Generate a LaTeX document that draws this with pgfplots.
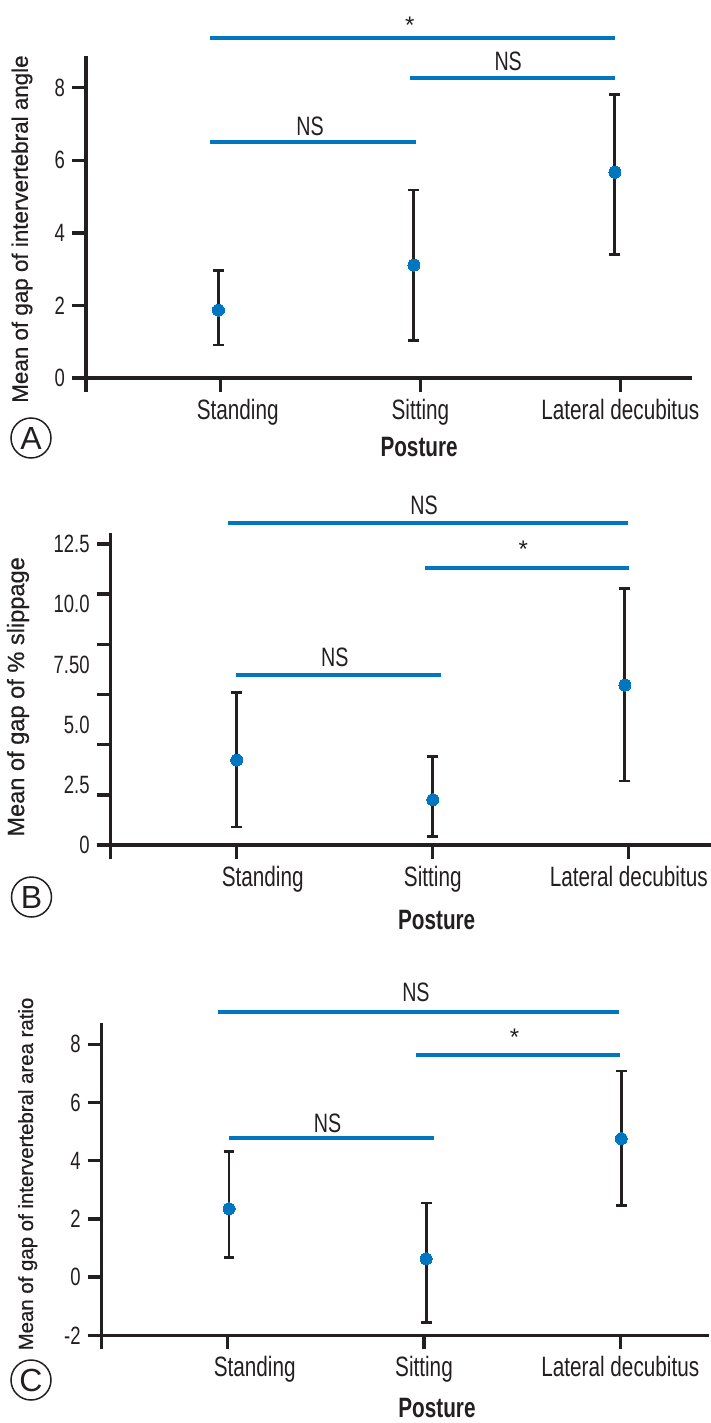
\documentclass[border=0pt]{standalone}
\usepackage{pgfplots}
\pgfplotsset{compat=1.18}
\usepackage{fontspec}
\setmainfont{Liberation Sans}
\newfontfamily\cond[FakeStretch=0.74]{Liberation Sans}
\newfontfamily\medium[FakeBold=0.6]{Liberation Sans}
\definecolor{bblue}{RGB}{0,118,192}
\definecolor{dark}{RGB}{35,31,32}

\pgfplotsset{
  panel/.style={
    scale only axis, clip=false,
    axis x line*=bottom, axis y line*=left,
    x axis line style={draw=none},
    y axis line style={line width=1.7pt, color=dark},
    xtick align=inside, ytick align=outside,
    major tick length=7pt,
    tick style={line width=1.7pt, color=dark},
    xtick={1,2,3},
    x tick label style={font=\cond\fontsize{14}{16}\selectfont, text=dark},
    y tick label style={font=\cond\fontsize{12.5}{14}\selectfont, text=dark},
    xlabel={Posture},
    xlabel style={font=\cond\bfseries\fontsize{14}{16}\selectfont, text=dark, anchor=center},
    ylabel style={anchor=center, text=dark},
  },
  errplot/.style={only marks, color=bblue, mark=*, mark size=3pt,
    mark options={fill=bblue, draw=bblue, line width=0pt},
    error bars/y dir=both, error bars/y explicit,
    error bars/error bar style={line width=1.4pt, color=dark},
    error bars/error mark options={rotate=90, mark size=2.7pt, line width=1.4pt, color=dark}},
}
\tikzset{
  brk/.style={bblue, line width=2pt},
  lab/.style={font=\cond\fontsize{13.3}{15}\selectfont, text=dark},
  star/.style={font=\fontsize{12}{14}\selectfont, text=dark, yshift=-2.5pt},
}

\begin{document}
\begin{tikzpicture}
\useasboundingbox (0,0) rectangle (355.5pt,-711.5pt);

% ---------------- Panel A ----------------
\begin{axis}[panel,
  at={(43pt,-196pt)}, anchor=south west,
  width=303.1pt, height=167.95pt,
  xmin=0.326, xmax=3.36, ymin=-0.386, ymax=8.87,
  xticklabels={\hspace*{17pt}Standing,Sitting,Lateral decubitus},
  ytick={0,2,4,6,8}, yticklabels={0,2,4,6,8},
  ylabel={Mean of gap of intervertebral angle},
  ylabel style={font=\medium\fontsize{11.2}{13}\selectfont, at={([xshift=-32pt,yshift=-2.5pt]rel axis cs:0,0.5)}},
  xlabel style={at={([yshift=-27.5pt]axis cs:1.993,-0.386)}},
]
\addplot[errplot] table[x=x, y=y, y error plus=ep, y error minus=em] {
x     y    ep   em
0.989 1.87 1.09 0.96
1.967 3.11 2.07 2.07
2.973 5.67 2.15 2.27
};
\draw[dark, line width=1.7pt] ([xshift=-7pt]axis cs:0.326,0) -- (axis cs:3.36,0);
\draw[brk] (axis cs:0.948,9.36) -- (axis cs:2.973,9.36);
\draw[brk] (axis cs:1.947,8.26) -- (axis cs:2.973,8.26);
\draw[brk] (axis cs:0.946,6.49) -- (axis cs:1.976,6.49);
\node[star] at (axis cs:1.947,9.85) {*};
\node[lab] at (axis cs:2.439,8.72) {NS};
\node[lab] at (axis cs:1.447,6.94) {NS};
\end{axis}

% ---------------- Panel B ----------------
\begin{axis}[panel,
  at={(55.35pt,-429.5pt)}, anchor=south west,
  width=300.2pt, height=163.15pt,
  xmin=0.357, xmax=3.42, ymin=-0.581, ymax=12.97,
  xticklabels={\hspace*{26pt}Standing,Sitting,Lateral decubitus},
  ytick={0,2.0833,4.1667,6.25,8.3333,10.4167,12.5}, yticklabels={,,,,,,},
  extra y ticks={0,2.5,5,7.5,10,12.5},
  extra y tick labels={0,2.5,5.0,7.50,10.0,12.5},
  extra y tick style={major tick style={draw=none}},
  ylabel={Mean of gap of \% slippage},
  ylabel style={font=\medium\fontsize{11.8}{13}\selectfont, at={([xshift=-46.35pt,yshift=-0.5pt]rel axis cs:0,0.5)}},
  xlabel style={at={([yshift=-30.5pt]axis cs:2.02,-0.581)}},
]
\addplot[errplot] table[x=x, y=y, y error plus=ep, y error minus=em] {
x     y    ep   em
1.0   3.53 2.82 2.78
2.0   1.88 1.78 1.54
2.98  6.64 4.00 3.98
};
\draw[dark, line width=1.7pt] ([xshift=-7pt]axis cs:0.357,0) -- (axis cs:3.42,0);
\draw[brk] (axis cs:0.954,13.36) -- (axis cs:2.995,13.36);
\draw[brk] (axis cs:1.962,11.52) -- (axis cs:3.0,11.52);
\draw[brk] (axis cs:0.998,7.08) -- (axis cs:2.04,7.08);
\node[lab] at (axis cs:1.956,14.12) {NS};
\node[star] at (axis cs:2.462,12.5) {*};
\node[lab] at (axis cs:1.5,7.81) {NS};
\end{axis}

% ---------------- Panel C ----------------
\begin{axis}[panel,
  at={(50.85pt,-674.65pt)}, anchor=south west,
  width=303.65pt, height=163.3pt,
  xmin=0.358, xmax=3.452, ymin=-2.481, ymax=8.742,
  xticklabels={\hspace*{27pt}Standing,Sitting,Lateral decubitus},
  ytick={-2,0,2,4,6,8}, yticklabels={-2,0,2,4,6,8},
  ylabel={Mean of gap of intervertebral area ratio},
  ylabel style={font=\medium\fontsize{10.2}{12}\selectfont, at={([xshift=-37pt,yshift=6pt]rel axis cs:0,0.5)}},
  xlabel style={at={([yshift=-29.3pt]axis cs:2.066,-2.481)}},
]
\addplot[errplot] table[x=x, y=y, y error plus=ep, y error minus=em] {
x     y     ep   em
1.007 2.35  1.96 1.68
2.011 0.63  1.92 2.20
3.005 4.76  2.32 2.31
};
\draw[dark, line width=1.7pt] ([xshift=-7pt]axis cs:0.358,-2) -- (axis cs:3.452,-2);
\draw[brk] (axis cs:0.952,9.10) -- (axis cs:2.995,9.10);
\draw[brk] (axis cs:1.957,7.62) -- (axis cs:3.0,7.62);
\draw[brk] (axis cs:1.007,4.78) -- (axis cs:2.05,4.78);
\node[lab] at (axis cs:1.959,9.78) {NS};
\node[star] at (axis cs:2.461,8.40) {*};
\node[lab] at (axis cs:1.509,5.30) {NS};
\end{axis}

% circled panel letters
\node[circle, draw=dark, line width=0.75pt, minimum size=20pt, inner sep=0pt, font=\fontsize{16}{16}\selectfont, text=dark] at (15.5pt,-219pt) {A};
\node[circle, draw=dark, line width=0.75pt, minimum size=20pt, inner sep=0pt, font=\fontsize{16}{16}\selectfont, text=dark] at (15.75pt,-448.5pt) {B};
\node[circle, draw=dark, line width=0.75pt, minimum size=20pt, inner sep=0pt, font=\fontsize{16}{16}\selectfont, text=dark] at (15.5pt,-690pt) {C};
\end{tikzpicture}
\end{document}
